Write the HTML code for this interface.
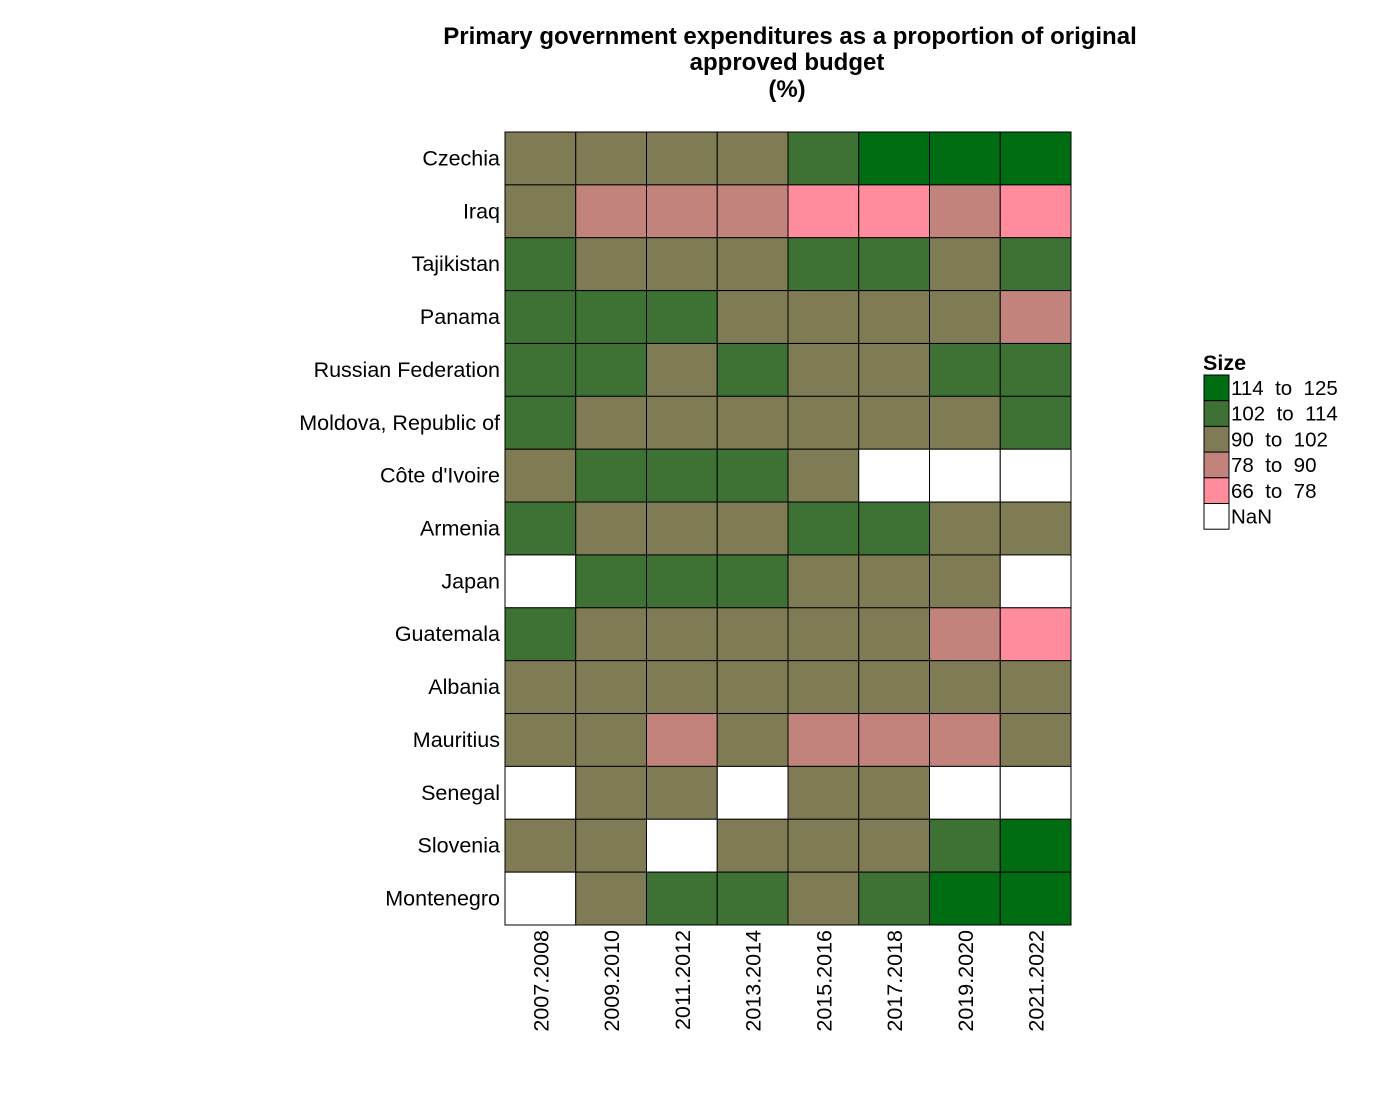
<!DOCTYPE html>
<html><head><meta charset="utf-8"><style>
body{margin:0;background:#fff;font-family:"Liberation Sans",Arial,sans-serif}
</style></head><body>
<svg id="chart" width="1400" height="1100" xmlns="http://www.w3.org/2000/svg" font-family="Liberation Sans, Arial, sans-serif">
<g font-weight="bold" font-size="24" text-anchor="middle">
<text x="790" y="44">Primary government expenditures as a proportion of original</text>
<text x="787" y="70">approved budget</text>
<text x="787" y="97">(%)</text>
</g>
<g id="cells"></g>
<g id="ylabels"></g>
<g id="xlabels"></g>
<g id="legend"></g>
</svg>
<script>
const countries=["Czechia","Iraq","Tajikistan","Panama","Russian Federation","Moldova, Republic of","Côte d'Ivoire","Armenia","Japan","Guatemala","Albania","Mauritius","Senegal","Slovenia","Montenegro"];
const years=["2007.2008","2009.2010","2011.2012","2013.2014","2015.2016","2017.2018","2019.2020","2021.2022"];
const values=[
[96,96,96,96,107,118,118,118],
[96,84,84,84,72,72,84,72],
[107,96,96,96,107,107,96,107],
[107,107,107,96,96,96,96,84],
[107,107,96,107,96,96,107,107],
[107,96,96,96,96,96,96,107],
[96,107,107,107,96,null,null,null],
[107,96,96,96,107,107,96,96],
[null,107,107,107,96,96,96,null],
[107,96,96,96,96,96,84,72],
[96,96,96,96,96,96,96,96],
[96,96,84,96,84,84,84,96],
[null,96,96,null,96,96,null,null],
[96,96,null,96,96,96,107,118],
[null,96,107,107,96,107,118,118]
];
const binLabels=["114  to  125","102  to  114","90  to  102","78  to  90","66  to  78","NaN"];
const binMins=[114,102,90,78,66];
const binColors=["#006d12","#3d7234","#7f7b55","#c1837b","#ff8c9c","#ffffff"];
const NS="http://www.w3.org/2000/svg";
const x0=505,x1=1071,y0=132,y1=925;
const cw=(x1-x0)/years.length,ch=(y1-y0)/countries.length;
const xs=i=>x0+i*cw, ys=j=>y0+j*ch;
function colorOf(v){if(v==null)return binColors[5];for(let k=0;k<binMins.length;k++)if(v>=binMins[k])return binColors[k];return binColors[4];}
function mk(t,a,p){const e=document.createElementNS(NS,t);for(const k in a)e.setAttribute(k,a[k]);p.appendChild(e);return e;}
const cells=document.getElementById('cells');
values.forEach((row,j)=>row.forEach((v,i)=>{
 const r=mk('rect',{x:xs(i),y:ys(j),width:cw,height:ch,fill:colorOf(v),stroke:'#000','stroke-width':1},cells);
 
 
}));
const yl=document.getElementById('ylabels');
countries.forEach((c,j)=>{const t=mk('text',{x:500,y:ys(j)+ch/2+7,'text-anchor':'end','font-size':21.5},yl);t.textContent=c;
 
 });
const xl=document.getElementById('xlabels');
years.forEach((y,i)=>{const cx=xs(i)+cw/2+8;const t=mk('text',{x:cx,y:930,'text-anchor':'end','font-size':21.5,transform:`rotate(-90 ${cx} 930)`},xl);t.textContent=y;
 
 });
const lg=document.getElementById('legend');
const lt=mk('text',{x:1203,y:370,'font-size':21.5,'font-weight':'bold'},lg);lt.textContent="Size";


binLabels.forEach((l,k)=>{const yy=375+k*25.7;
 const r=mk('rect',{x:1204,y:yy,width:25,height:25.7,fill:binColors[k],stroke:'#000','stroke-width':1},lg);
 
 
 const t=mk('text',{x:1231,y:yy+20,'font-size':20.5,style:'white-space:pre'},lg);t.textContent=l;
 
 });
</script>
</body></html>
